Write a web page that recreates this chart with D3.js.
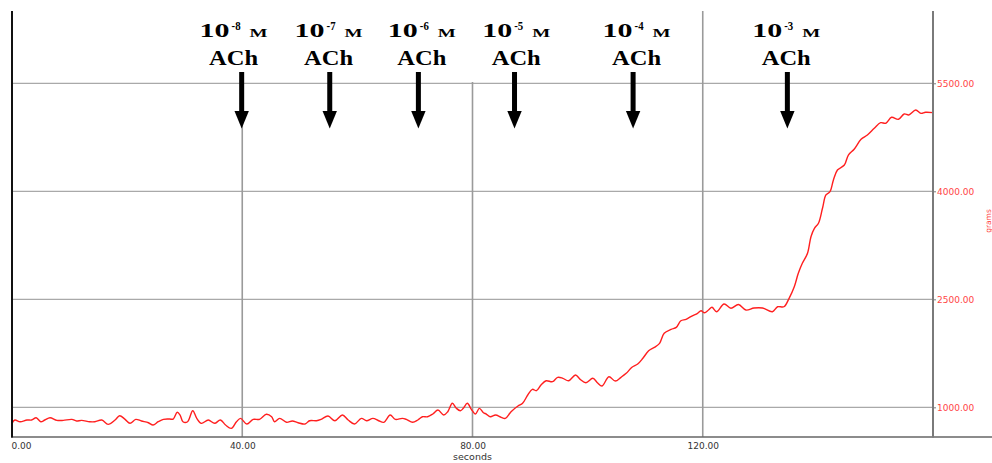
<!DOCTYPE html>
<html><head><meta charset="utf-8">
<script src="https://cdn.jsdelivr.net/npm/d3@7"></script>
<style>html,body{margin:0;padding:0;background:#fff;overflow:hidden}</style>
</head><body>
<svg id="chart" width="992" height="463"></svg>
<script>
const times = [0,0.5,1.4,2.6,3.4,4.2,5.0,5.7,6.6,7.8,8.9,10.4,11.2,12.1,13.5,14.4,15.6,16.7,17.9,18.7,19.6,20.5,21.5,22.5,23.7,24.5,25.4,26.3,27.4,28.0,28.7,29.2,29.7,30.5,31.4,32.1,32.9,34.1,35.2,36.2,37.1,38.1,39.0,39.7,40.8,41.9,43.0,44.2,45.1,45.6,46.5,47.7,48.7,49.7,50.9,51.7,52.9,53.7,54.9,56.1,57.4,58.4,59.5,60.7,61.6,62.7,63.7,64.6,65.7,66.6,67.8,68.5,69.6,70.5,71.3,72.2,73.1,74.0,75.0,75.7,76.5,77.2,77.9,78.4,79.1,79.8,80.5,81.2,81.9,82.4,83.1,84.0,85.0,85.7,86.7,87.9,88.7,89.6,90.4,91.1,91.9,92.8,93.9,94.8,95.7,96.7,97.9,98.7,99.7,100.9,101.7,102.5,103.7,104.8,105.8,106.7,107.7,108.7,109.6,110.6,111.6,112.5,113.3,114.5,115.4,116.2,117.1,118.1,119.1,119.7,120.3,121.0,121.6,122.4,123.7,124.9,126.2,127.5,128.9,130.4,132.1,133.0,134.1,135.0,135.9,136.6,137.3,138.2,138.8,139.4,140.1,140.8,141.4,142.1,142.7,143.4,144.6,145.3,146.3,147.5,148.6,149.8,150.9,151.8,152.8,154.0,155.0,155.8,157.0,157.9,158.7,160];
const values = [778,824,800,824,824,856,800,824,856,819,819,833,810,819,800,800,824,764,824,883,837,778,833,810,786,754,800,833,837,837,931,893,800,800,953,847,778,824,778,824,754,708,800,847,768,833,833,903,869,800,847,792,810,786,768,814,814,833,879,814,893,824,768,847,814,847,814,792,893,833,847,833,792,824,869,869,907,962,893,939,1056,986,953,986,1056,972,907,986,925,907,869,893,861,847,939,1018,1056,1171,1250,1231,1310,1369,1356,1417,1403,1369,1449,1389,1342,1403,1342,1296,1425,1365,1417,1472,1556,1601,1681,1786,1833,1889,2028,2083,2111,2203,2222,2268,2306,2342,2314,2351,2389,2328,2435,2375,2428,2351,2379,2379,2328,2397,2397,2514,2675,2861,3000,3139,3370,3486,3556,3764,3949,3995,4157,4296,4365,4504,4584,4722,4782,4875,4953,4945,5028,5000,5074,5060,5129,5083,5097,5092];
const xTicks = [0, 40, 80, 120];
const yTicks = [1000, 2500, 4000, 5500];
const doseBase = "10";
const doseExponents = ["-8", "-7", "-6", "-5", "-4", "-3"];
const doseUnit = "M";
const doseDrug = "ACh";
const doseArrowTimes = [39.9, 55.2, 70.6, 87.3, 107.9, 134.7];
const doseLabelTimes = [38.5, 55.0, 71.2, 87.6, 108.5, 134.5];
const xTitle = "seconds";
const yTitle = "grams";

const x = d3.scaleLinear().domain([0, 160]).range([12, 933]);
const y = d3.scaleLinear().domain([588, 6504]).range([437, 11]);
const svg = d3.select("#chart");
svg.append("rect").attr("width", 992).attr("height", 463).attr("fill", "#fff");

// horizontal grid
svg.append("g").selectAll("line").data(yTicks).join("line")
  .attr("x1", x(0)).attr("x2", x(160))
  .attr("y1", d => y(d)).attr("y2", d => y(d))
  .attr("stroke", "#a9a9a9").attr("stroke-width", 1.3);
// vertical grid
svg.append("g").selectAll("line").data(xTicks.filter(d => d > 0)).join("line")
  .attr("x1", d => x(d)).attr("x2", d => x(d))
  .attr("y1", y.range()[1]).attr("y2", y.range()[0])
  .attr("stroke", "#9a9a9a").attr("stroke-width", 1.6);

// white backdrop of the annotation image
svg.append("rect").attr("x", 195).attr("y", 0).attr("width", 495).attr("height", 82).attr("fill", "#fff");

// data line
const line = d3.line().x((d, i) => x(times[i])).y(d => y(d)).curve(d3.curveCatmullRom.alpha(0.5));
svg.append("path").datum(values).attr("d", line)
  .attr("fill", "none").attr("stroke", "#ff1f1f").attr("stroke-width", 1.4).attr("stroke-linejoin", "round");

// axes lines
svg.append("line").attr("x1", 11).attr("x2", 992).attr("y1", 437).attr("y2", 437).attr("stroke", "#666").attr("stroke-width", 1.5);
svg.append("line").attr("x1", 12).attr("x2", 12).attr("y1", 11).attr("y2", 437.5).attr("stroke", "#111").attr("stroke-width", 2);
svg.append("line").attr("x1", 933).attr("x2", 933).attr("y1", 11).attr("y2", 437.5).attr("stroke", "#7a7a7a").attr("stroke-width", 2);

// right y axis
const yAxis = svg.append("g").attr("transform", "translate(933,0)")
  .call(d3.axisRight(y).tickValues(yTicks).tickSize(3).tickPadding(1).tickFormat(d3.format(".2f")));
yAxis.select(".domain").remove();
yAxis.selectAll("line").attr("stroke", "#7a7a7a");
yAxis.selectAll("text").attr("fill", "#ff4545").attr("font-family", "DejaVu Sans").attr("font-size", 9);

// bottom x axis
const xAxis = svg.append("g").attr("transform", "translate(0,437)")
  .call(d3.axisBottom(x).tickValues(xTicks).tickSize(0).tickPadding(5.5).tickFormat(d3.format(".2f")));
xAxis.select(".domain").remove();
xAxis.selectAll("text").attr("fill", "#333").attr("font-family", "DejaVu Sans").attr("font-size", 9)
  .attr("text-anchor", d => d === 0 ? "start" : "middle").attr("dx", d => d === 0 ? -1 : 0);
svg.append("text").attr("x", x(80)).attr("y", 460).attr("text-anchor", "middle")
  .attr("font-family", "DejaVu Sans").attr("font-size", 9.5).attr("fill", "#333").text(xTitle);

// right axis title
svg.append("text").attr("transform", "translate(991,221) rotate(-90)").attr("text-anchor", "middle")
  .attr("font-family", "DejaVu Sans").attr("font-size", 7.5).attr("fill", "#ff4545").text(yTitle);

// dose annotations
const ann = svg.append("g").attr("font-family", "Liberation Serif").attr("font-weight", "bold").attr("fill", "#000");
doseExponents.forEach((ex, i) => {
  const c = x(doseLabelTimes[i]);
  const g = ann.append("g");
  g.append("text").attr("x", c - 34).attr("y", 37).attr("font-size", 19)
    .attr("textLength", 30).attr("lengthAdjust", "spacingAndGlyphs").text(doseBase);
  g.append("text").attr("x", c - 2).attr("y", 30).attr("font-size", 12.5)
    .attr("textLength", 9).attr("lengthAdjust", "spacingAndGlyphs").text(ex);
  g.append("text").attr("x", c + 16).attr("y", 37).attr("font-size", 12.5)
    .attr("textLength", 18).attr("lengthAdjust", "spacingAndGlyphs").text(doseUnit);
  g.append("text").attr("x", c - 24.5).attr("y", 65).attr("font-size", 20)
    .attr("textLength", 49).attr("lengthAdjust", "spacingAndGlyphs").text(doseDrug);
  const a = x(doseArrowTimes[i]);
  g.append("rect").attr("x", a - 2.5).attr("y", 72).attr("width", 5).attr("height", 41).attr("fill", "#000");
  g.append("path").attr("d", `M${a - 7.2},111 L${a + 7.2},111 L${a},128.5 Z`).attr("fill", "#000");
});
</script>
</body></html>
